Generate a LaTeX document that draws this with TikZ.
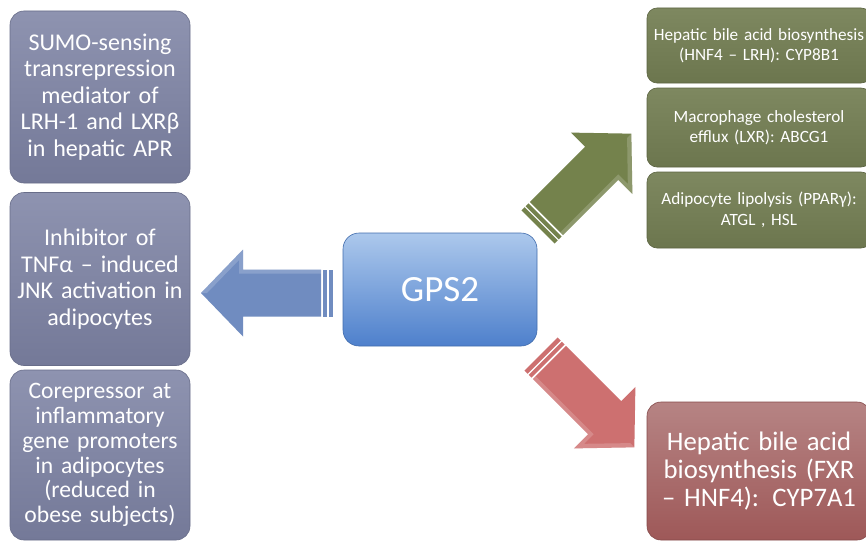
\documentclass[tikz,border=0pt]{standalone}
\usepackage{fontspec}
\setmainfont{Carlito}
\begin{document}
\begin{tikzpicture}[x=1pt,y=-1pt,
  leftbox/.style={rounded corners=14pt, top color=slateTop, bottom color=slateBot,
    draw=slateBot!90!black, line width=0.6pt, text=white, align=center,
    minimum width=180pt, text width=172pt, inner sep=0pt,
    font=\fontsize{24}{26.5}\selectfont},
  greenbox/.style={rounded corners=10pt, top color=oliveTop, bottom color=oliveBot,
    draw=oliveBot!85!black, line width=0.6pt, text=white, align=center,
    minimum width=224pt, text width=218pt, inner sep=0pt,
    font=\fontsize{17.2}{20.5}\selectfont},
  redbox/.style={rounded corners=14pt, top color=roseTop, bottom color=roseBot,
    draw=roseBot!85!black, line width=0.6pt, text=white, align=center,
    minimum width=224pt, text width=218pt, inner sep=0pt,
    font=\fontsize{26.7}{28}\selectfont},
  gpsbox/.style={rounded corners=16pt, top color=gpsTop, bottom color=gpsBot,
    draw=gpsBot!85!black, line width=0.6pt, text=white, align=center,
    minimum width=194pt, minimum height=113pt, inner sep=0pt,
    font=\fontsize{37}{40}\selectfont},
  pics/stripedarrow/.style={code={
    % main shaft with head
    \fill[pic actions] (12,-23.5) -- (90,-23.5) -- (90,-43.5) -- (132,0)
      -- (90,43.5) -- (90,23.5) -- (12,23.5) -- cycle;
    % lighter bevel along the upper edge
    \fill[white, opacity=0.18] (12,23.5) -- (90,23.5) -- (90,43.5) -- (132,0)
      -- (126,0) -- (94,33) -- (94,19.5) -- (12,19.5) -- cycle;
    % two stripes at the tail
    \fill[pic actions] (6,-23.5) rectangle (10,23.5);
    \fill[pic actions] (0,-23.5) rectangle (4.5,23.5);
  }}
]
\definecolor{slateTop}{RGB}{142,147,176}
\definecolor{slateBot}{RGB}{116,121,152}
\definecolor{oliveTop}{RGB}{126,136,96}
\definecolor{oliveBot}{RGB}{108,118,78}
\definecolor{roseTop}{RGB}{182,132,132}
\definecolor{roseBot}{RGB}{158,88,88}
\definecolor{gpsTop}{RGB}{172,200,236}
\definecolor{gpsBot}{RGB}{78,128,204}
\definecolor{arrowBlue}{RGB}{112,140,192}
\definecolor{arrowGreen}{RGB}{116,130,76}
\definecolor{arrowRed}{RGB}{205,112,112}

\clip (0,0) rectangle (866,543);
\fill[white] (0,0) rectangle (866,543);

% left column
\node[leftbox, minimum height=172pt] (sumo) at (100,97)
  {SUMO-sensing\\transrepression\\mediator of\\LRH-1 and LXRβ\\in hepatic APR};
\node[leftbox, minimum height=173pt] (tnf) at (100,279)
  {Inhibitor of\\TNFα – induced\\JNK activation in\\adipocytes};
\node[leftbox, minimum height=170pt, font=\fontsize{23.6}{24.8}\selectfont] (corep) at (100,455)
  {Corepressor at\\inflammatory\\gene promoters\\in adipocytes\\(reduced in\\obese subjects)};

% centre
\node[gpsbox] (gps) at (440,289.5) {GPS2};

% right column
\node[greenbox, minimum height=75pt] (cyp8) at (759,45.5)
  {Hepatic bile acid biosynthesis\\(HNF4 – LRH): CYP8B1};
\node[greenbox, minimum height=79pt] (abcg) at (759,127.5)
  {Macrophage cholesterol\\efflux (LXR): ABCG1};
\node[greenbox, minimum height=76pt] (atgl) at (759,210)
  {Adipocyte lipolysis (PPARγ):\\ATGL , HSL};
\node[redbox, minimum height=138pt] (cyp7) at (759,471)
  {Hepatic bile acid\\biosynthesis (FXR\\– HNF4): CYP7A1};

% block arrows
\coordinate (blueTail) at (333,293);
\coordinate (greenTail) at (538,227);
\coordinate (redTail) at (541,354);
\pic[fill=arrowBlue, rotate=180] at (blueTail) {stripedarrow};
\pic[fill=arrowGreen, rotate=45] at (greenTail) {stripedarrow};
\pic[fill=arrowRed, rotate=-45] at (redTail) {stripedarrow};
\end{tikzpicture}
\end{document}
